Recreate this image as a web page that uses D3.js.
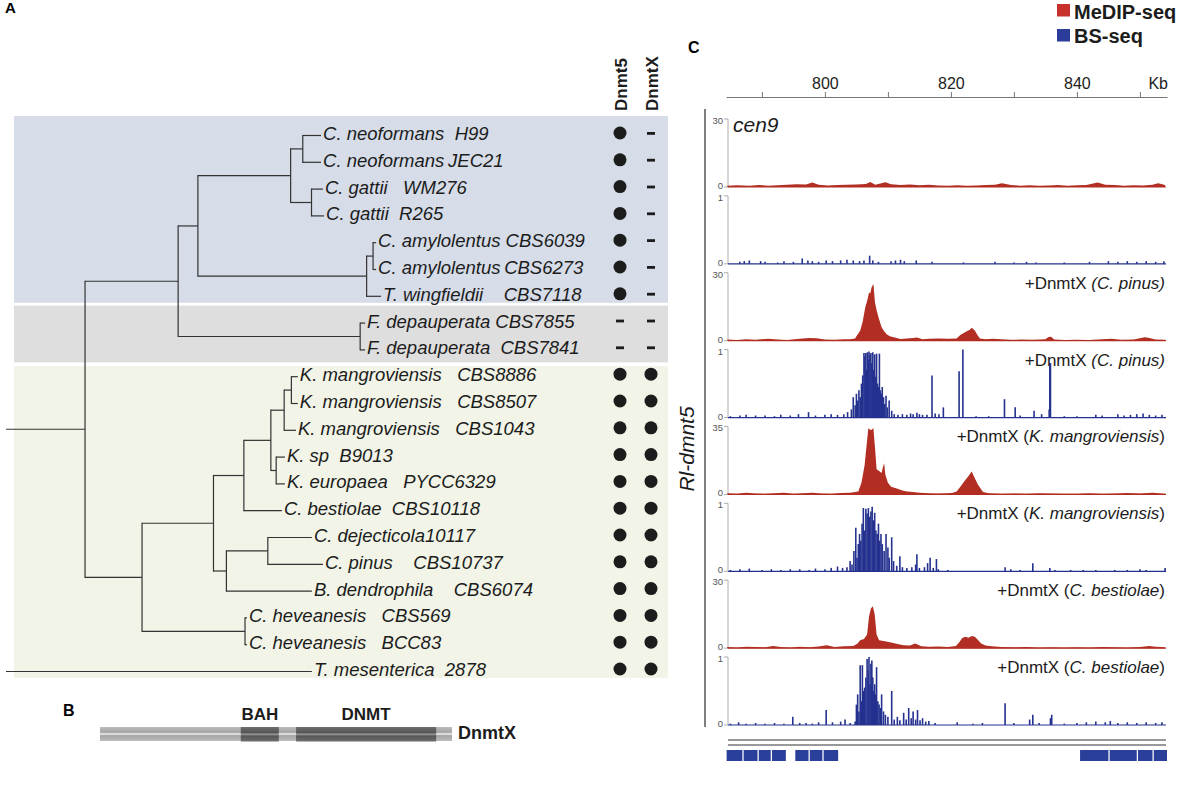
<!DOCTYPE html>
<html>
<head>
<meta charset="utf-8">
<script src="https://cdn.jsdelivr.net/npm/d3@7"></script>
<style>
body { margin: 0; background: #fff; }
svg { font-family: "Liberation Sans", Arial, Helvetica, sans-serif; }
</style>
</head>
<body>
<svg id="fig" width="1200" height="787"></svg>
<script>
// ---------- A : arbre + presence Dnmt5 / DnmtX ----------
const leafLabels = [
  "C. neoformans  H99", "C. neoformans\u2009JEC21", "C. gattii   WM276", "C. gattii  R265",
  "C. amylolentus CBS6039", "C. amylolentus\u2009CBS6273", "T. wingfieldii    CBS7118",
  "F. depauperata CBS7855", "F. depauperata  CBS7841",
  "K. mangroviensis   CBS8886", "K. mangroviensis   CBS8507", "K. mangroviensis   CBS1043",
  "K. sp  B9013", "K. europaea   PYCC6329", "C. bestiolae  CBS10118", "C. dejecticola10117",
  "C. pinus    CBS10737", "B. dendrophila    CBS6074", "C. heveanesis   CBS569",
  "C. heveanesis   BCC83", "T. mesenterica  2878"
];
const dnmt5 = [1,1,1,1,1,1,1,0,0,1,1,1,1,1,1,1,1,1,1,1,1];
const dnmtX = [0,0,0,0,0,0,0,0,0,1,1,1,1,1,1,1,1,1,1,1,1];
const columnNames = ["Dnmt5", "DnmtX"];

// arbre : id, parent, distance depuis la racine
const nodeIds = ["root","A","B","D","E","N","L0","L1","Gt","L2","L3","G","Am","L4","L5","L6","F","L7","L8",
  "C","H","K","M","Km","Kmm","L9","L10","L11","Ksp","L12","L13","L14","P","Q","L15","L16","L17","Hev","L18","L19","L20"];
const nodeParents = [null,"root","A","B","D","E","N","N","E","Gt","Gt","D","G","Am","Am","G","B","F","F",
  "A","C","H","K","M","Km","Kmm","Kmm","Km","M","Ksp","Ksp","K","H","P","Q","Q","P","C","Hev","Hev","root"];
const nodeDepths = [0,0.208,0.453,0.505,0.749,0.781,0.829,0.829,0.804,0.834,0.837,0.949,0.966,0.974,0.974,0.987,0.932,0.945,0.945,
  0.358,0.546,0.626,0.697,0.732,0.751,0.768,0.768,0.763,0.711,0.734,0.734,0.726,0.580,0.689,0.805,0.834,0.805,0.629,0.634,0.634,0.805];

const groupFirst = [0, 7, 9];
const groupLast = [6, 8, 20];
const groupColors = ["#d6dce8", "#dedede", "#f1f4e7"];

// ---------- B : domaines DnmtX ----------
const proteinLength = 1000;
const domainNames = ["BAH", "DNMT"];
const domainStart = [400, 557];
const domainEnd = [508, 955];

// ---------- C : pistes ----------
const axisTicks = [790, 800, 810, 820, 830, 840, 850];
const medipCen9 = [[784.5,0.6],[786,0.8],[788,0.5],[789.5,0.9],[791,0.6],[792.5,0.8],[794,1.0],[795.5,1.2],[797,1.1],[798,2.0],[799,1.0],[800.5,0.7],[802,0.9],[803.5,1.0],[805,1.1],[806.5,1.3],[807.2,2.2],[808,1.0],[809.6,2.1],[810.5,1.2],[812,0.9],[813.5,1.1],[815,0.8],[816.5,1.0],[818,0.7],[819.5,0.6],[821,0.8],[822.5,0.6],[824,0.7],[825.5,0.9],[827,1.0],[828.1,1.6],[829.5,0.9],[831,0.6],[832.5,0.8],[834,0.6],[835.5,0.7],[837,0.9],[838.5,0.6],[840,0.8],[841.5,0.9],[843.3,2.0],[844.5,1.0],[846,0.9],[847.5,0.6],[849,0.8],[850.5,0.7],[852,1.0],[852.9,1.6],[854,0.9]];
const bsCen9 = [[786.5,0.03],[787.2,0.04],[788,0.05],[789.8,0.04],[790.5,0.03],[792.5,0.02],[793.5,0.04],[795,0.03],[796.4,0.08],[797.3,0.05],[798,0.04],[799,0.03],[800.2,0.05],[801.2,0.04],[802.5,0.05],[803.5,0.06],[804.5,0.05],[805.5,0.04],[806.2,0.05],[807.1,0.12],[807.6,0.05],[808.5,0.03],[810.5,0.04],[811.2,0.05],[812,0.06],[812.6,0.04],[814.5,0.05],[817,0.03],[822,0.02],[827,0.03],[830,0.02],[832,0.03],[833.5,0.02],[838,0.02],[842,0.03],[845,0.04],[846.5,0.03],[848,0.04],[849.5,0.03],[851,0.04],[852.5,0.03],[853.8,0.04]];
const medipPinus = [[784.5,0.5],[786,0.3],[787.5,0.6],[789,0.4],[791,0.9],[792.5,0.5],[794,0.3],[796,0.9],[797.5,1.2],[798.7,1.1],[800,0.5],[801.5,0.4],[803,0.6],[804,0.7],[804.8,1.0],[805,2.0],[805.6,4.4],[806,8.5],[806.4,14.7],[806.7,17.5],[807,21.3],[807.2,20.8],[807.4,23.5],[807.7,25],[807.95,16.9],[808.2,13.5],[808.5,10.3],[809,5.9],[809.4,4.2],[809.8,2.9],[810.3,2.0],[810.9,1.5],[812,0.8],[813,1.0],[814,1.2],[814.6,1.4],[815.5,0.6],[816.5,0.9],[818,1.0],[819.5,0.9],[820.9,1.0],[821.5,2.5],[822.3,3.8],[823,4.8],[823.3,5.7],[823.8,4.5],[824.2,2.5],[824.6,1.0],[825.5,0.7],[826.7,0.9],[828,0.6],[829.5,0.4],[831,0.5],[833,0.4],[835,0.6],[835.5,1.6],[835.9,1.7],[836.4,0.5],[838,0.3],[840,0.4],[842,0.3],[844,0.6],[845.5,0.9],[847,0.4],[849,0.5],[850.8,1.5],[851.5,1.2],[852.5,0.5],[854,0.4]];
const bsPinus = [[785,0.02],[786.5,0.03],[787.5,0.04],[789,0.03],[790.5,0.03],[792,0.02],[793,0.04],[794.5,0.03],[795.8,0.05],[797.4,0.08],[798.5,0.03],[800,0.04],[801,0.05],[802,0.04],[803,0.05],[803.6,0.08],[804.2,0.12],[804.5,0.3],[804.8,0.18],[805.0,0.35],[805.2,0.25],[805.4,0.4],[805.6,0.3],[805.8,0.5],[806.0,0.62],[806.2,0.95],[806.35,0.9],[806.5,0.95],[806.6,0.7],[806.75,0.96],[806.9,0.85],[807.0,0.97],[807.15,0.92],[807.3,0.95],[807.45,0.8],[807.6,0.96],[807.75,0.7],[807.9,0.93],[808.05,0.6],[808.2,0.94],[808.35,0.5],[808.5,0.45],[808.65,0.94],[808.8,0.4],[808.95,0.35],[809.1,0.45],[809.3,0.3],[809.5,0.2],[809.7,0.32],[809.9,0.15],[810.2,0.25],[810.6,0.1],[811,0.05],[811.6,0.04],[812.3,0.05],[813,0.04],[813.6,0.06],[814,0.05],[814.6,0.07],[815,0.05],[815.5,0.04],[816.2,0.04],[817.0,0.62],[817.5,0.06],[818.1,0.05],[818.8,0.15],[821.3,0.68],[821.9,1.0],[824,0.02],[826,0.02],[828.5,0.27],[830.2,0.15],[831,0.03],[833.2,0.1],[834.4,0.05],[835.6,0.12],[835.7,0.8],[835.8,0.8],[838,0.02],[840,0.02],[843,0.04],[844,0.03],[846.5,0.05],[847.5,0.03],[848.5,0.04],[849.5,0.05],[850.5,0.06],[851.5,0.04],[852.5,0.03],[853.5,0.04]];
const medipMang = [[784.5,0.6],[786,0.4],[787.5,0.8],[789,0.5],[790.5,0.3],[792,0.6],[793.5,0.9],[795,0.4],[796.5,0.6],[798,0.9],[799.5,0.5],[801,0.4],[802.5,0.7],[804,0.9],[805.3,1.5],[805.8,6],[806.3,15],[806.7,28],[806.9,34],[807.3,33],[807.7,34],[808.0,22],[808.2,13],[808.6,12],[809.0,11],[809.2,14],[809.4,16],[809.6,10],[810,6],[810.5,4],[811.4,3],[812.3,2],[813,1.5],[814,1.2],[815,0.8],[816.5,0.6],[818,0.5],[819.5,0.6],[820.3,0.8],[820.9,1.5],[821.5,4],[822.2,7],[822.8,9.5],[823.3,11.8],[823.7,9],[824.3,5],[825.1,1.2],[826,0.6],[828,0.4],[830,0.5],[832,0.4],[834,0.6],[836,0.5],[838,0.3],[840,0.4],[842,0.6],[844,0.4],[846,0.5],[848,0.7],[850,0.5],[852,0.8],[854,0.4]];
const bsMang = [[785,0.02],[786.5,0.03],[788,0.04],[790,0.02],[791.5,0.03],[793,0.02],[794.5,0.03],[796,0.03],[797.5,0.02],[798.5,0.04],[800,0.03],[801,0.05],[802,0.07],[802.8,0.05],[803.5,0.06],[804,0.15],[804.3,0.1],[804.6,0.3],[804.9,0.64],[805.1,0.2],[805.3,0.4],[805.5,0.55],[805.7,0.45],[805.9,0.7],[806.1,0.93],[806.3,0.6],[806.5,0.92],[806.7,0.85],[806.9,0.93],[807.1,0.8],[807.3,0.88],[807.5,0.95],[807.7,0.75],[807.9,0.86],[808.1,0.6],[808.3,0.55],[808.5,0.7],[808.7,0.45],[808.9,0.55],[809.1,0.4],[809.4,0.3],[809.7,0.55],[810.0,0.35],[810.2,0.2],[810.6,0.5],[810.9,0.15],[811.4,0.08],[811.9,0.22],[812.3,0.06],[813,0.05],[813.8,0.06],[814.4,0.1],[814.6,0.25],[815,0.05],[815.8,0.06],[816.3,0.12],[816.7,0.2],[817.2,0.05],[817.7,0.18],[818,0.03],[819.5,0.02],[828.6,0.06],[829.5,0.03],[831,0.02],[833,0.12],[835.7,0.05],[836.5,0.02],[839,0.02],[841,0.02],[843,0.02],[846,0.02],[848,0.02],[850,0.03],[851,0.02],[854,0.05]];
const medipBest = [[784.5,0.5],[786,0.3],[787.5,0.6],[789,0.5],[790.5,0.4],[791.8,1.0],[793,0.5],[794.5,0.3],[796,0.6],[797.5,0.4],[799,0.7],[800.3,1.3],[801.5,0.5],[803,0.8],[804.5,1.0],[805.2,2.0],[805.6,3.5],[806.2,4.0],[806.7,6],[807,14],[807.3,17.5],[807.6,18.5],[807.9,15],[808.2,6],[808.6,3.5],[809.5,3.0],[810.5,2.5],[811.5,1.8],[812.5,1.3],[813.5,1.2],[814.3,2.0],[814.7,1.6],[815.3,0.8],[816.5,0.6],[818,0.7],[819.5,0.5],[820.8,1.0],[821.3,2.5],[821.8,4.5],[822.3,5.0],[822.8,4.6],[823.3,5.4],[823.8,5.0],[824.3,3.6],[824.8,2.0],[825.5,1.2],[826.5,0.8],[828,0.5],[830,0.4],[832,0.5],[834,0.3],[836,0.4],[838,0.3],[840,0.4],[842,0.3],[844,0.5],[846,0.4],[848,0.3],[850,0.5],[851.5,0.9],[852.5,0.6],[854,0.4]];
const bsBest = [[785,0.02],[786.3,0.04],[787.5,0.02],[789,0.03],[790.5,0.02],[792,0.03],[793.5,0.02],[794.9,0.12],[796,0.03],[797,0.03],[798,0.02],[799,0.04],[800.2,0.22],[801.2,0.04],[802.5,0.05],[803.2,0.08],[804,0.03],[804.8,0.05],[805.0,0.3],[805.2,0.45],[805.4,0.2],[805.6,0.88],[805.8,0.35],[805.95,0.88],[806.1,0.5],[806.3,0.55],[806.5,0.7],[806.7,0.97],[806.85,0.8],[807.0,1.0],[807.15,0.6],[807.3,0.9],[807.45,0.95],[807.6,0.7],[807.75,0.5],[807.9,0.6],[808.05,0.45],[808.2,0.85],[808.4,0.35],[808.6,0.3],[808.8,0.25],[809.0,0.45],[809.3,0.2],[809.6,0.15],[810.0,0.12],[810.6,0.5],[811,0.08],[811.5,0.12],[811.9,0.07],[812.5,0.18],[812.9,0.08],[813.3,0.25],[813.7,0.1],[814.0,0.2],[814.4,0.08],[814.7,0.22],[815.1,0.07],[815.5,0.1],[816,0.05],[816.5,0.06],[817.5,0.03],[821,0.04],[823.5,0.02],[825,0.03],[828.6,0.32],[830,0.03],[832.5,0.08],[833,0.15],[834,0.03],[835.8,0.1],[836,0.15],[838,0.02],[840,0.03],[841.5,0.04],[843,0.05],[844.5,0.04],[845.3,0.06],[846.5,0.03],[848,0.04],[849.5,0.03],[851,0.04],[852.5,0.03],[853.5,0.04]];

const trackKinds = ["medip","bs","medip","bs","medip","bs","medip","bs"];
const trackMax = [30, 1, 30, 1, 35, 1, 30, 1];
const trackSpecies = [null, null, "C. pinus", "C. pinus", "K. mangroviensis", "K. mangroviensis", "C. bestiolae", "C. bestiolae"];
const trackData = [medipCen9, bsCen9, medipPinus, bsPinus, medipMang, bsMang, medipBest, bsBest];
const geneBlocks = [[784.4,786.9],[787.1,789.3],[789.5,791.4],[791.6,793.8],[795.3,797.4],[797.6,799.6],[799.8,802.1],[840.5,845.0],[845.2,849.5],[849.7,852.0],[852.2,854.3]];

const rouge = "#b22d22", bleu = "#24318f", encre = "#1c1c1c";

const svg = d3.select("#fig");

// ====== A ======
svg.append("text").attr("x", 5).attr("y", 13).attr("font-size", 15).attr("font-weight", "bold").text("A");

const rowY = d3.scaleLinear().domain([0, 20]).range([133, 669]);
const depthX = d3.scaleLinear().domain([0, 1]).range([6, 386]);

// fonds colorés
let padTop = [17, 15, 8], padBot = [9, 15, 9];
svg.append("g").selectAll("rect")
    .data(groupColors)
    .join("rect")
    .attr("x", 14)
    .attr("width", 654)
    .attr("y", (d, i) => rowY(groupFirst[i]) - padTop[i])
    .attr("height", (d, i) => rowY(groupLast[i]) + padBot[i] - rowY(groupFirst[i]) + padTop[i])
    .attr("fill", d => d);

let table = nodeIds.map((id, i) => ({ id: id, parent: nodeParents[i], dist: nodeDepths[i] }));
let racine = d3.stratify().id(d => d.id).parentId(d => d.parent)(table);
racine.eachAfter(n => {
    n.px = depthX(n.data.dist);
    if (!n.children) n.py = rowY(+n.id.slice(1)) + 2.5;
    else n.py = (n.children[0].py + n.children[n.children.length - 1].py) / 2;
});

let gTree = svg.append("g").attr("stroke", "#333").attr("stroke-width", 1.2);
gTree.selectAll(".h")
    .data(racine.descendants().filter(n => n.parent))
    .join("line")
    .attr("class", "h")
    .attr("x1", n => n.parent.px).attr("x2", n => n.px)
    .attr("y1", n => n.py).attr("y2", n => n.py);
gTree.selectAll(".v")
    .data(racine.descendants().filter(n => n.children && n.parent))
    .join("line")
    .attr("class", "v")
    .attr("x1", n => n.px).attr("x2", n => n.px)
    .attr("y1", n => n.children[0].py - 0.6)
    .attr("y2", n => n.children[n.children.length - 1].py + 0.6);

svg.append("g").selectAll("text")
    .data(racine.leaves())
    .join("text")
    .attr("x", n => n.px + 2)
    .attr("y", n => rowY(+n.id.slice(1)) + 7)
    .attr("font-size", 18.5)
    .attr("font-style", "italic")
    .attr("fill", encre)
    .style("white-space", "pre")
    .text(n => leafLabels[+n.id.slice(1)]);

// colonnes Dnmt5 / DnmtX
let colX = d3.scalePoint().domain(columnNames).range([620, 651]);
svg.append("g").selectAll("text")
    .data(columnNames)
    .join("text")
    .attr("transform", d => `translate(${colX(d) + 7},111) rotate(-90)`)
    .attr("font-size", 17)
    .attr("font-weight", "bold")
    .attr("fill", encre)
    .text(d => d);

[dnmt5, dnmtX].forEach(function (col, c) {
    let g = svg.append("g").attr("fill", encre);
    let cx = colX(columnNames[c]);
    g.selectAll("circle").data(col.map((v, i) => ({ v, i })).filter(d => d.v)).join("circle")
        .attr("cx", cx).attr("cy", d => rowY(d.i)).attr("r", 6.5);
    g.selectAll("rect").data(col.map((v, i) => ({ v, i })).filter(d => !d.v)).join("rect")
        .attr("x", cx - 4).attr("y", d => rowY(d.i) - 1).attr("width", 8).attr("height", 2.8);
});

// ====== B ======
svg.append("text").attr("x", 63).attr("y", 716).attr("font-size", 16).attr("font-weight", "bold").text("B");
let protX = d3.scaleLinear().domain([0, proteinLength]).range([100, 452]);
let defs = svg.append("defs");
function degrade(id, bord, fonce, clair) {
    let lg = defs.append("linearGradient").attr("id", id).attr("x1", 0).attr("x2", 0).attr("y1", 0).attr("y2", 1);
    [[0, bord], [0.38, fonce], [0.5, clair], [0.62, fonce], [1, bord]].forEach(s =>
        lg.append("stop").attr("offset", s[0]).attr("stop-color", s[1]));
}
degrade("tube", "#bdbdbd", "#a3a3a3", "#f2f2f2");
degrade("domaine", "#6f6f6f", "#555", "#9a9a9a");
svg.append("rect").attr("x", protX(0)).attr("width", protX(proteinLength) - protX(0))
    .attr("y", 727).attr("height", 14).attr("fill", "url(#tube)");
let gDom = svg.append("g");
gDom.selectAll("rect").data(domainNames).join("rect")
    .attr("x", (d, i) => protX(domainStart[i]))
    .attr("width", (d, i) => protX(domainEnd[i]) - protX(domainStart[i]))
    .attr("y", 727).attr("height", 14.5).attr("fill", "url(#domaine)");
gDom.selectAll("text").data(domainNames).join("text")
    .attr("x", (d, i) => (protX(domainStart[i]) + protX(domainEnd[i])) / 2)
    .attr("y", 720).attr("text-anchor", "middle")
    .attr("font-size", 17).attr("font-weight", "bold").attr("fill", encre)
    .text(d => d);
svg.append("text").attr("x", protX(proteinLength) + 6).attr("y", 739)
    .attr("font-size", 18).attr("font-weight", "bold").attr("fill", encre).text("DnmtX");

// ====== C ======
svg.append("text").attr("x", 688).attr("y", 53).attr("font-size", 16).attr("font-weight", "bold").text("C");

// légende
let leg = svg.append("g");
leg.selectAll("rect").data([rouge, bleu]).join("rect")
    .attr("x", 1057).attr("y", (d, i) => 4 + i * 25).attr("width", 13).attr("height", 12.5)
    .attr("fill", (d, i) => i ? "#2b3c9b" : "#c8302c");
leg.selectAll("text").data(["MeDIP-seq", "BS-seq"]).join("text")
    .attr("x", 1074).attr("y", (d, i) => 19 + i * 24)
    .attr("font-size", 20).attr("font-weight", "bold").attr("fill", encre)
    .text(d => d);

let x = d3.scaleLinear().domain([784.3, 854.3]).range([726, 1167]);
let axe = svg.append("g").attr("transform", "translate(0,97)")
    .call(d3.axisTop(x).tickValues(axisTicks).tickSize(5).tickSizeOuter(0)
        .tickFormat(d => d % 20 === 0 ? d : ""));
axe.select(".domain").attr("stroke", "#777");
axe.selectAll(".tick line").attr("stroke", "#777");
axe.selectAll(".tick text").attr("font-size", 16).attr("fill", "#222")
    .attr("font-family", "Liberation Sans, Arial, sans-serif");
svg.append("text").attr("x", 1168).attr("y", 89).attr("text-anchor", "end")
    .attr("font-size", 16).attr("fill", "#222").text("Kb");

// cadre gauche + étiquette
svg.append("line").attr("x1", 705).attr("x2", 705).attr("y1", 109).attr("y2", 727)
    .attr("stroke", "#555").attr("stroke-width", 1.5);
svg.append("text").attr("transform", "translate(694,449) rotate(-90)")
    .attr("text-anchor", "middle").attr("font-size", 21).attr("font-style", "italic")
    .attr("fill", encre).text("Rl-dmnt5");

const trackBottom = d3.scaleLinear().domain([0, 7]).range([187, 725]);
const trackH = 68;

trackData.forEach(function (data, i) {
    let bas = trackBottom(i), haut = bas - trackH;
    let couleur = trackKinds[i] === "medip" ? rouge : bleu;
    let y = d3.scaleLinear().domain([0, trackMax[i]]).range([bas, haut]);
    let g = svg.append("g").attr("class", "piste");

    // petit axe vertical
    g.append("path").attr("d", `M724,${haut}H728V${bas}H724`)
        .attr("fill", "none").attr("stroke", "#999").attr("stroke-width", 0.8);
    g.selectAll(".echelle").data([trackMax[i], 0]).join("text")
        .attr("class", "echelle")
        .attr("x", 723).attr("y", d => y(d) + (d ? 5 : 2))
        .attr("text-anchor", "end").attr("font-size", 9.5).attr("fill", "#555")
        .text(d => d);

    g.append("line").attr("x1", 728).attr("x2", 1166).attr("y1", bas).attr("y2", bas)
        .attr("stroke", couleur).attr("stroke-width", 1.2);

    if (trackKinds[i] === "medip") {
        let aire = d3.area().x(d => x(d[0])).y0(bas).y1(d => y(d[1]));
        g.append("path").datum(data).attr("d", aire).attr("fill", couleur);
    } else {
        g.selectAll(".pic").data(data).join("line")
            .attr("class", "pic")
            .attr("x1", d => x(d[0])).attr("x2", d => x(d[0]))
            .attr("y1", bas).attr("y2", d => y(d[1]))
            .attr("stroke", couleur).attr("stroke-width", 1.6);
    }

    if (i === 0) {
        g.append("text").attr("x", 733).attr("y", haut + 13)
            .attr("font-size", 21).attr("font-style", "italic").attr("fill", encre).text("cen9");
    } else if (trackSpecies[i]) {
        let t = g.append("text").attr("x", 1165).attr("y", haut + 16)
            .attr("text-anchor", "end").attr("font-size", 17).attr("fill", encre);
        if (trackSpecies[i] === "C. pinus") {
            t.append("tspan").text("+DnmtX ");
            t.append("tspan").attr("font-style", "italic").text("(" + trackSpecies[i] + ")");
        } else {
            t.append("tspan").text("+DnmtX (");
            t.append("tspan").attr("font-style", "italic").text(trackSpecies[i]);
            t.append("tspan").text(")");
        }
    }
});

// piste des gènes
svg.append("g").selectAll("line").data([740, 745]).join("line")
    .attr("x1", 728).attr("x2", 1166).attr("y1", d => d).attr("y2", d => d)
    .attr("stroke", "#777").attr("stroke-width", 1.6);
svg.append("g").selectAll("rect").data(geneBlocks).join("rect")
    .attr("x", d => x(d[0])).attr("width", d => x(d[1]) - x(d[0]))
    .attr("y", 750).attr("height", 11).attr("fill", "#2a3f9a");
</script>
</body>
</html>
